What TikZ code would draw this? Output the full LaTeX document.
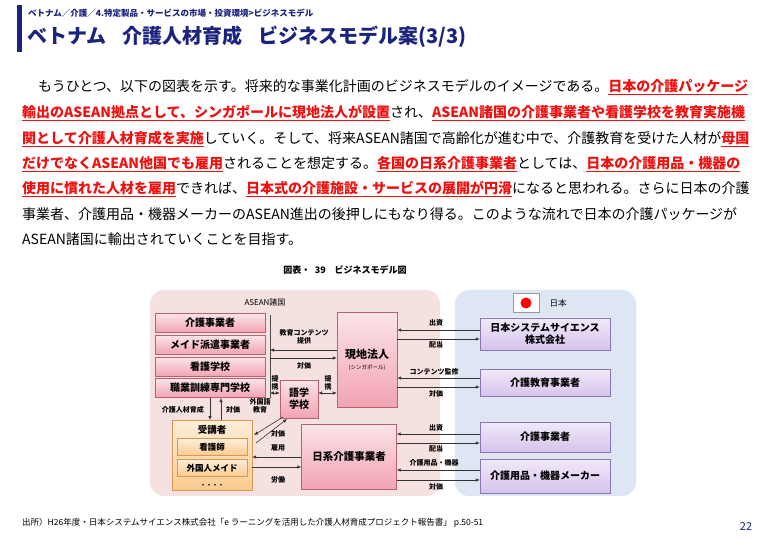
\documentclass[tikz,border=0pt]{standalone}
\usepackage{fontspec}
\setmainfont{Noto Sans CJK JP}
\usetikzlibrary{arrows.meta}
\definecolor{navy}{HTML}{1A237E}
\definecolor{redt}{HTML}{F01010}
\definecolor{pinkbg}{HTML}{F6E1E1}
\definecolor{bluebg}{HTML}{DDE6F2}
\definecolor{pinkbox}{HTML}{F2A3B2}
\definecolor{pinkedge}{HTML}{B86070}
\definecolor{lav}{HTML}{D6C2EC}
\definecolor{lavedge}{HTML}{8878B0}
\definecolor{orbox}{HTML}{FBCB90}
\definecolor{oredge}{HTML}{D89850}
\newcommand{\R}[1]{\textcolor{redt}{\bfseries\underline{#1}}}
\tikzset{
 pbox/.style={draw=pinkedge,top color=pinkbox!30,bottom color=pinkbox,font=\fontsize{10}{12}\selectfont\bfseries,inner sep=1pt,align=center},
 jbox/.style={draw=lavedge,top color=lav!35,bottom color=lav,font=\fontsize{10}{12}\selectfont\bfseries,inner sep=1pt,align=center},
 obox/.style={draw=oredge,top color=orbox!35,bottom color=orbox,inner sep=1pt,align=center,font=\fontsize{8.5}{10}\selectfont\bfseries},
 lab/.style={font=\fontsize{7}{8}\selectfont\bfseries,inner sep=0pt,align=center},
 arr/.style={-{Latex[length=4pt,width=3.5pt]},line width=0.6pt,black!80},
 darr/.style={{Latex[length=4pt,width=3.5pt]}-{Latex[length=4pt,width=3.5pt]},line width=0.6pt,black!80},
 body/.style={anchor=west,inner sep=0pt,font=\fontsize{14}{16}\selectfont}
}
\begin{document}
\begin{tikzpicture}[x=1pt,y=-1pt]
\useasboundingbox (0,0) rectangle (780,540);
\fill[white] (0,0) rectangle (780,540);
% header
\fill[navy] (17,5) rectangle (22,52);
\node[anchor=west,inner sep=0pt,text=navy,font=\fontsize{8.5}{10}\selectfont\bfseries] (crumb) at (28,13) {ベトナム／介護／4.特定製品・サービスの市場・投資環境>ビジネスモデル};
\node[anchor=west,inner sep=0pt,text=navy,font=\fontsize{20}{24}\selectfont\bfseries] (title) at (27,37) {ベトナム\hspace{0.8em}介護人材育成\hspace{0.8em}ビジネスモデル案(3/3)};
% body
\node[body] (l1) at (38,87) {もうひとつ、以下の図表を示す。将来的な事業化計画のビジネスモデルのイメージである。\R{日本の介護パッケージ}};
\node[body] (l2) at (22,113) {\R{輸出のASEAN拠点として、シンガポールに現地法人が設置}され、\R{ASEAN諸国の介護事業者や看護学校を教育実施機}};
\node[body] (l3) at (22,139) {\R{関として介護人材育成を実施}していく。そして、将来ASEAN諸国で高齢化が進む中で、介護教育を受けた人材が\R{母国}};
\node[body] (l4) at (22,164) {\R{だけでなくASEAN他国でも雇用}されることを想定する。\R{各国の日系介護事業者}としては、\R{日本の介護用品・機器の}};
\node[body] (l5) at (22,189) {\R{使用に慣れた人材を雇用}できれば、\R{日本式の介護施設・サービスの展開が円滑}になると思われる。さらに日本の介護};
\node[body] (l6) at (22,214) {事業者、介護用品・機器メーカーのASEAN進出の後押しにもなり得る。このような流れで日本の介護パッケージが};
\node[body] (l7) at (22,239) {ASEAN諸国に輸出されていくことを目指す。};
% caption
\node[font=\fontsize{9}{10}\selectfont\bfseries,inner sep=0pt] (cap) at (345,270) {図表・\hspace{0.5em}39\hspace{1em}ビジネスモデル図};
% regions
\fill[pinkbg,rounded corners=14pt] (150,290) rectangle (440,496);
\fill[bluebg,rounded corners=14pt] (455,290) rectangle (636,496);
\node[font=\fontsize{8}{9}\selectfont,inner sep=0pt] (asean) at (265,302) {ASEAN諸国};
\node[draw=black!40,fill=white,minimum width=26pt,minimum height=19pt,inner sep=0pt] (flag) at (526,303) {};
\fill[red] (flag.center) circle (5.5pt);
\node[font=\fontsize{8.5}{10}\selectfont,inner sep=0pt] (jp) at (558,303) {日本};
% left stack
\node[pbox,minimum width=110pt,minimum height=19pt] (k1) at (210,323) {介護事業者};
\node[pbox,minimum width=110pt,minimum height=19pt] (k2) at (210,345) {メイド派遣事業者};
\node[pbox,minimum width=110pt,minimum height=19pt] (k3) at (210,367) {看護学校};
\node[pbox,minimum width=110pt,minimum height=19pt] (k4) at (210,388) {職業訓練専門学校};
\coordinate (bt) at (270,315);
\coordinate (bb) at (270,398);
\draw[line width=0.6pt,black!70] (bt) -- (bb);
\node[pbox,minimum width=60pt,minimum height=95pt,font=\fontsize{11}{13}\selectfont\bfseries] (gen) at (367,360) {現地法人\\[-2pt]{\fontsize{5.5}{6}\selectfont\mdseries(シンガポール)}};
\node[pbox,minimum width=38pt,minimum height=38pt] (go) at (299,399) {語学\\学校};
\coordinate (b1) at (270,350);
\coordinate (b2) at (270,358);
\draw[arr] (gen.west|-b1) -- (b1);
\draw[arr] (b2) -- (gen.west|-b2);
\node[lab] (t1) at (304,337) {教育コンテンツ\\提供};
\node[lab] (t2) at (304,366) {対価};
\coordinate (b3) at (270,393);
\draw[darr] (b3) -- (go.west|-b3);
\draw[darr] (go.east|-b3) -- (gen.west|-b3);
\node[lab] (t3) at (275,383) {提\\携};
\node[lab] (t4) at (328,383) {提\\携};
% students
\node[obox,minimum width=80pt,minimum height=70pt] (ju) at (212,455) {};
\node[inner sep=0pt,font=\fontsize{9.5}{11}\selectfont\bfseries] (jul) at (212,430) {受講者};
\node[obox,minimum width=70pt,minimum height=17pt] (kan) at (212,447) {看護師};
\node[obox,minimum width=70pt,minimum height=17pt] (mai) at (212,468) {外国人メイド};
\node[inner sep=0pt,font=\fontsize{6}{7}\selectfont\bfseries] (dots) at (212,486) {・・・・};
\draw[arr] (210,398) -- (210,420);
\draw[arr] (221,420) -- (221,398);
\node[lab,anchor=east] (t5) at (204,410) {介護人材育成};
\node[lab] (t6) at (233,410) {対価};
\draw[arr] (283,417) -- (254,435);
\draw[arr] (256,443) -- (287,419);
\node[lab] (t7) at (260,406) {外国語\\教育};
\node[lab] (t8) at (278,434) {対価};
% nikkei
\node[pbox,minimum width=95pt,minimum height=65pt,font=\fontsize{10.5}{12}\selectfont\bfseries] (nik) at (349,457) {日系介護事業者};
\draw[arr] (nik.west|-0,457) -- (ju.east|-0,457);
\draw[arr] (ju.east|-0,467) -- (nik.west|-0,467);
\node[lab] (t9) at (278,448) {雇用};
\node[lab] (t10) at (278,480) {労働};
% japan boxes
\node[jbox,minimum width=130pt,minimum height=32pt] (j1) at (545,334) {日本システムサイエンス\\株式会社};
\node[jbox,minimum width=130pt,minimum height=27pt] (j2) at (545,383) {介護教育事業者};
\node[jbox,minimum width=130pt,minimum height=30pt] (j3) at (545,437) {介護事業者};
\node[jbox,minimum width=130pt,minimum height=34pt] (j4) at (545,476) {介護用品・機器メーカー};
\draw[arr] (j1.west|-0,330) -- (gen.east|-0,330);
\draw[arr] (gen.east|-0,339) -- (j1.west|-0,339);
\node[lab] (u1) at (436,323) {出資};
\node[lab] (u2) at (436,345) {配当};
\draw[arr] (j2.west|-0,378) -- (gen.east|-0,378);
\draw[arr] (gen.east|-0,387) -- (j2.west|-0,387);
\node[lab] (u3) at (434,372) {コンテンツ監修};
\node[lab] (u4) at (436,394) {対価};
\draw[arr] (j3.west|-0,434) -- (nik.east|-0,434);
\draw[arr] (nik.east|-0,443) -- (j3.west|-0,443);
\node[lab] (u5) at (436,428) {出資};
\node[lab] (u6) at (436,449) {配当};
\draw[arr] (j4.west|-0,470) -- (nik.east|-0,470);
\draw[arr] (nik.east|-0,480) -- (j4.west|-0,480);
\node[lab] (u7) at (434,463) {介護用品・機器};
\node[lab] (u8) at (436,487) {対価};
% footer
\node[anchor=west,inner sep=0pt,font=\fontsize{8.5}{10}\selectfont] (src) at (22,523) {出所）H26年度・日本システムサイエンス株式会社「e ラーニングを活用した介護人材育成プロジェクト報告書」 p.50-51};
\node[inner sep=0pt,text=navy,font=\fontsize{11}{12}\selectfont] (pg) at (746,527) {22};
\end{tikzpicture}
\end{document}
